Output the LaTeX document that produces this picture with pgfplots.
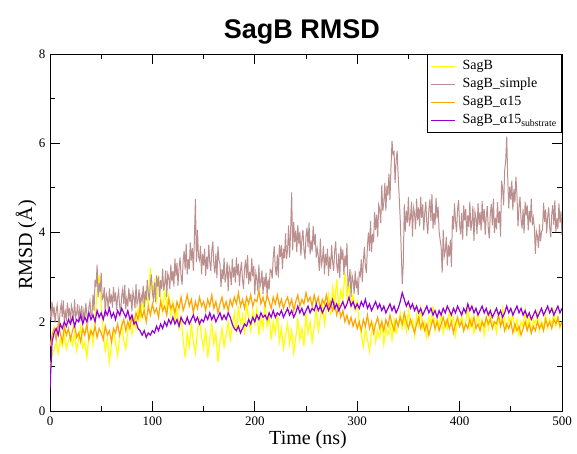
\documentclass[border=0pt]{standalone}
\usepackage{fontspec}
\setmainfont{Liberation Serif}
\newfontfamily\titlefont{Liberation Sans}
\usepackage{pgfplots}
\pgfplotsset{compat=1.18}
\definecolor{cYellow}{RGB}{255,255,0}
\definecolor{cBrown}{RGB}{188,143,143}
\definecolor{cOrange}{RGB}{255,165,0}
\definecolor{cPurple}{RGB}{148,0,211}
\begin{document}
\begin{tikzpicture}[x=1pt,y=1pt]
\useasboundingbox (0,0) rectangle (577,453);
\begin{axis}[
  at={(50pt,42pt)}, anchor=south west,
  scale only axis, width=512pt, height=357pt,
  xmin=0, xmax=500, ymin=0, ymax=8,
  xtick={0,100,...,500}, ytick={0,2,...,8},
  minor x tick num=1, minor y tick num=1,
  tick align=inside, major tick length=10pt, minor tick length=5pt,
  axis line style={black, line width=0.8pt},
  every tick/.style={black, line width=0.8pt},
  /pgf/number format/assume math mode=true,
  ticklabel style={font=\fontsize{13}{13}\selectfont},
  xticklabel style={yshift=-2pt},
  yticklabel style={xshift=-1pt},
  xlabel={Time (ns)}, ylabel={RMSD (Å)},
  label style={font=\fontsize{20}{20}\selectfont},
  xlabel style={at={(axis description cs:0.504,-0.0952)}, anchor=base},
  ylabel style={at={(axis description cs:-0.035,0.465)}, anchor=base, rotate=0},
  title={SagB RMSD},
  title style={font=\titlefont\bfseries\fontsize{27}{27}\selectfont, at={(axis description cs:0.492,1)}, anchor=base, yshift=10pt},
  legend style={at={(1,1)}, anchor=north east, draw=black, line width=0.8pt, fill=white,
    font=\fontsize{14}{14}\selectfont, inner xsep=3pt, inner ysep=3.5pt, row sep=1pt, column sep=5pt,
    nodes={inner sep=2pt, text height=10pt, text depth=3pt}, cells={anchor=west}},
  legend image code/.code={\draw[#1, line width=1.6pt] (0pt,0pt) -- (24pt,0pt);},
  every axis plot/.append style={line width=1.2pt},
]
\addplot[cYellow] coordinates {
(0,0.95)(2,1.25)(4,1.38)(6,1.52)(8,1.30)(10,1.61)(12,1.45)(14,1.72)(16,1.40)(18,1.58)
(20,1.66)(22,1.48)(24,1.75)(26,1.36)(28,1.62)(30,1.90)(32,1.42)(34,1.55)(36,1.20)(38,1.68)
(40,1.85)(42,1.50)(44,2.10)(46,2.65)(48,3.05)(50,2.40)(52,1.70)(54,1.35)(56,1.62)(58,1.10)
(60,1.48)(62,1.80)(64,1.52)(66,1.25)(68,1.66)(70,1.95)(72,1.58)(74,1.40)(76,1.80)(78,2.05)
(80,1.72)(82,2.10)(84,1.85)(86,2.30)(88,2.05)(90,2.45)(92,2.20)(94,2.70)(96,2.35)(98,3.20)
(100,2.60)(102,2.90)(104,2.40)(106,3.05)(108,2.55)(110,2.25)(112,2.70)(114,2.35)(116,2.60)(118,2.15)
(120,2.45)(122,2.00)(124,2.30)(126,1.85)(128,2.10)(130,1.60)(132,1.20)(134,1.75)(136,1.45)(138,1.95)
(140,1.55)(142,1.30)(144,1.80)(146,2.05)(148,1.65)(150,1.40)(152,1.85)(154,1.20)(156,1.60)(158,1.95)
(160,1.50)(162,1.75)(164,1.10)(166,1.55)(168,1.85)(170,1.45)(172,1.70)(174,2.00)(176,1.60)(178,1.90)
(180,2.20)(182,1.75)(184,2.35)(186,1.95)(188,2.15)(190,1.70)(192,2.40)(194,2.05)(196,1.80)(198,2.25)
(200,1.95)(202,2.30)(204,1.70)(206,2.10)(208,1.85)(210,2.45)(212,1.90)(214,2.15)(216,1.60)(218,2.00)
(220,1.75)(222,2.20)(224,1.55)(226,1.85)(228,1.40)(230,1.70)(232,1.95)(234,1.50)(236,1.80)(238,1.30)
(240,1.65)(242,2.05)(244,1.60)(246,1.85)(248,1.45)(250,2.20)(252,1.75)(254,2.00)(256,1.55)(258,1.90)
(260,2.30)(262,1.80)(264,2.10)(266,2.45)(268,1.95)(270,2.30)(272,2.60)(274,2.15)(276,2.75)(278,2.40)
(280,2.95)(282,2.30)(284,2.70)(286,2.50)(288,3.10)(290,2.55)(292,2.85)(294,2.35)(296,2.60)(298,2.25)
(300,2.45)(302,1.95)(304,1.70)(306,1.45)(308,1.85)(310,1.60)(312,1.35)(314,1.75)(316,1.95)(318,1.55)
(320,1.80)(322,1.65)(324,2.00)(326,1.50)(328,1.85)(330,1.70)(332,1.95)(334,1.60)(336,2.05)(338,1.75)
(340,1.90)(342,2.20)(344,1.85)(346,2.10)(348,1.80)(350,2.25)(352,1.95)(354,2.05)(356,1.70)(358,2.15)
(360,1.90)(362,2.30)(364,1.85)(366,2.00)(368,1.65)(370,2.10)(372,1.95)(374,2.35)(376,1.80)(378,2.05)
(380,1.90)(382,2.20)(384,1.75)(386,2.00)(388,1.85)(390,2.25)(392,1.95)(394,2.10)(396,1.70)(398,2.05)
(400,1.90)(402,2.15)(404,1.80)(406,2.00)(408,2.30)(410,1.85)(412,2.10)(414,1.75)(416,1.95)(418,2.20)
(420,1.90)(422,2.05)(424,1.70)(426,2.10)(428,1.85)(430,2.25)(432,1.95)(434,2.00)(436,1.75)(438,2.15)
(440,1.90)(442,2.30)(444,2.05)(446,1.85)(448,2.10)(450,1.95)(452,2.20)(454,1.80)(456,2.05)(458,1.70)
(460,2.00)(462,1.90)(464,2.25)(466,1.85)(468,2.10)(470,1.75)(472,2.05)(474,1.95)(476,2.20)(478,1.80)
(480,2.00)(482,1.90)(484,2.15)(486,1.85)(488,2.05)(490,1.95)(492,2.25)(494,1.90)(496,2.10)(498,1.85)
(500,2.00)};
\addlegendentry{SagB}
\addplot[cBrown, line width=1pt] coordinates {
(0,2.30)(1,2.04)(2,2.45)(3,2.16)(4,2.34)(5,1.98)(6,2.23)(7,2.38)(8,2.08)(9,1.94)
(10,2.27)(11,2.41)(12,2.11)(13,2.48)(14,2.01)(15,2.22)(16,2.06)(17,2.43)(18,2.14)(19,2.31)
(20,1.96)(21,2.36)(22,2.25)(23,2.02)(24,2.50)(25,2.10)(26,2.18)(27,2.40)(28,1.98)(29,2.28)
(30,2.10)(31,2.36)(32,1.95)(33,2.24)(34,2.06)(35,2.42)(36,2.17)(37,2.02)(38,2.32)(39,2.46)
(40,2.13)(41,2.14)(42,2.61)(43,2.25)(44,2.94)(45,2.78)(46,3.28)(47,2.56)(48,2.87)(49,2.66)
(50,3.10)(51,2.50)(52,2.54)(53,2.77)(54,2.12)(55,2.62)(56,2.52)(57,2.27)(58,2.75)(59,2.41)
(60,2.61)(61,2.32)(62,2.78)(63,2.45)(64,2.66)(65,2.26)(66,2.54)(67,2.70)(68,2.36)(69,2.20)
(70,2.58)(71,2.73)(72,2.40)(73,2.82)(74,2.28)(75,2.52)(76,2.34)(77,2.76)(78,2.44)(79,2.63)
(80,2.23)(81,2.68)(82,2.55)(83,2.30)(84,2.84)(85,2.39)(86,2.48)(87,2.73)(88,2.25)(89,2.59)
(90,2.48)(91,2.81)(92,2.32)(93,2.69)(94,2.48)(95,2.94)(96,2.65)(97,2.48)(98,2.86)(99,3.06)
(100,2.65)(101,2.50)(102,2.88)(103,2.44)(104,3.04)(105,2.79)(106,3.01)(107,2.55)(108,2.93)(109,2.73)
(110,3.19)(111,2.70)(112,2.85)(113,3.15)(114,2.56)(115,3.08)(116,2.99)(117,2.74)(118,3.28)(119,2.90)
(120,3.14)(121,2.79)(122,3.42)(123,3.02)(124,3.32)(125,2.81)(126,3.20)(127,3.44)(128,3.02)(129,2.83)
(130,3.36)(131,3.59)(132,3.17)(133,3.75)(134,3.06)(135,3.40)(136,3.18)(137,3.78)(138,3.37)(139,3.65)
(140,3.14)(141,3.84)(142,4.75)(143,3.34)(144,4.06)(145,3.46)(146,3.38)(147,3.70)(148,3.06)(149,3.52)
(150,3.26)(151,3.64)(152,3.03)(153,3.46)(154,3.18)(155,3.72)(156,3.35)(157,3.14)(158,3.58)(159,3.80)
(160,3.29)(161,3.09)(162,3.53)(163,2.98)(164,3.69)(165,3.38)(166,3.30)(167,2.78)(168,3.18)(169,2.95)
(170,3.43)(171,2.88)(172,3.03)(173,3.34)(174,2.68)(175,3.23)(176,3.12)(177,2.82)(178,3.41)(179,2.99)
(180,3.23)(181,2.88)(182,3.44)(183,3.04)(184,3.30)(185,2.80)(186,3.14)(187,3.34)(188,2.93)(189,2.74)
(190,3.20)(191,3.39)(192,2.98)(193,3.49)(194,2.84)(195,3.12)(196,2.90)(197,3.42)(198,3.02)(199,3.25)
(200,2.60)(201,3.10)(202,2.96)(203,2.68)(204,3.28)(205,2.78)(206,2.88)(207,3.15)(208,2.62)(209,3.00)
(210,2.78)(211,3.10)(212,2.59)(213,2.95)(214,2.72)(215,3.17)(216,3.15)(217,2.97)(218,3.44)(219,3.69)
(220,3.21)(221,3.04)(222,3.51)(223,2.99)(224,3.73)(225,3.45)(226,3.72)(227,3.18)(228,3.64)(229,3.42)
(230,3.98)(231,3.41)(232,3.61)(233,4.16)(234,3.44)(235,4.04)(236,4.90)(237,3.60)(238,4.24)(239,3.78)
(240,4.04)(241,3.56)(242,4.17)(243,3.74)(244,4.02)(245,3.48)(246,3.85)(247,4.06)(248,3.62)(249,3.40)
(250,3.91)(251,4.11)(252,3.67)(253,4.22)(254,3.51)(255,3.82)(256,3.58)(257,4.15)(258,3.72)(259,3.97)
(260,3.44)(261,3.64)(262,3.47)(263,3.14)(264,3.86)(265,3.26)(266,3.38)(267,3.70)(268,3.06)(269,3.52)
(270,3.26)(271,3.64)(272,3.03)(273,3.46)(274,3.18)(275,3.72)(276,3.35)(277,3.14)(278,3.58)(279,3.80)
(280,3.29)(281,3.09)(282,3.53)(283,2.98)(284,3.69)(285,3.38)(286,3.62)(287,3.05)(288,3.48)(289,3.23)
(290,3.76)(291,2.80)(292,2.92)(293,3.18)(294,2.56)(295,3.04)(296,2.92)(297,2.63)(298,3.14)(299,2.75)
(300,2.92)(301,2.60)(302,3.11)(303,3.03)(304,3.40)(305,2.89)(306,3.36)(307,3.67)(308,3.25)(309,3.09)
(310,3.71)(311,4.00)(312,3.59)(313,4.26)(314,3.56)(315,3.97)(316,3.78)(317,4.46)(318,4.06)(319,4.40)
(320,3.90)(321,4.62)(322,4.51)(323,4.21)(324,5.06)(325,4.48)(326,4.68)(327,5.11)(328,4.49)(329,5.05)
(330,4.83)(331,5.32)(332,4.73)(333,5.47)(334,6.05)(335,5.75)(336,5.80)(337,5.11)(338,5.60)(339,5.83)
(340,5.28)(341,4.80)(342,4.30)(343,3.60)(344,2.85)(345,3.30)(346,4.63)(347,4.02)(348,4.49)(349,4.22)
(350,4.79)(351,4.14)(352,4.32)(353,4.69)(354,3.91)(355,4.56)(356,4.43)(357,4.07)(358,4.76)(359,4.27)
(360,4.56)(361,4.14)(362,4.80)(363,4.33)(364,4.63)(365,4.05)(366,4.45)(367,4.69)(368,4.20)(369,3.97)
(370,4.52)(371,4.74)(372,4.26)(373,4.86)(374,4.09)(375,4.43)(376,4.17)(377,4.78)(378,4.31)(379,4.58)
(380,4.01)(381,3.84)(382,3.67)(383,3.10)(384,4.06)(385,3.46)(386,3.58)(387,3.90)(388,3.26)(389,3.72)
(390,3.46)(391,3.84)(392,3.23)(393,4.37)(394,4.07)(395,4.65)(396,4.25)(397,4.01)(398,4.50)(399,4.73)
(400,4.18)(401,3.96)(402,4.44)(403,3.84)(404,4.61)(405,4.27)(406,4.53)(407,3.92)(408,4.39)(409,4.12)
(410,4.69)(411,4.04)(412,4.22)(413,4.59)(414,3.81)(415,4.46)(416,4.33)(417,3.97)(418,4.66)(419,4.17)
(420,4.46)(421,4.04)(422,4.70)(423,4.23)(424,4.53)(425,3.95)(426,4.35)(427,4.59)(428,4.10)(429,3.87)
(430,4.42)(431,4.64)(432,4.16)(433,4.76)(434,3.99)(435,4.33)(436,4.07)(437,4.68)(438,4.21)(439,4.48)
(440,3.91)(441,5.16)(442,4.98)(443,4.61)(444,5.39)(445,5.60)(446,6.15)(447,5.23)(448,4.54)(449,5.03)
(450,4.74)(451,5.16)(452,4.50)(453,4.97)(454,4.67)(455,5.25)(456,4.85)(457,4.14)(458,4.58)(459,4.80)
(460,4.29)(461,4.09)(462,4.53)(463,3.98)(464,4.69)(465,4.38)(466,4.62)(467,4.05)(468,4.48)(469,4.23)
(470,4.76)(471,4.16)(472,4.33)(473,4.12)(474,3.52)(475,4.02)(476,3.92)(477,3.65)(478,4.18)(479,3.80)
(480,4.02)(481,4.06)(482,4.67)(483,4.24)(484,4.52)(485,3.98)(486,4.35)(487,4.56)(488,4.12)(489,3.90)
(490,4.41)(491,4.61)(492,4.17)(493,4.72)(494,4.01)(495,4.32)(496,4.08)(497,4.65)(498,4.22)(499,4.47)
(500,3.94)};
\addlegendentry{SagB\_simple}
\addplot[cOrange] coordinates {
(0,1.45)(2,1.70)(4,1.85)(6,1.60)(8,1.95)(10,1.75)(12,1.55)(14,1.90)(16,1.70)(18,1.85)
(20,1.60)(22,1.80)(24,1.95)(26,1.65)(28,1.75)(30,1.55)(32,1.85)(34,1.70)(36,1.95)(38,1.60)
(40,1.80)(42,1.70)(44,1.90)(46,1.65)(48,1.85)(50,1.75)(52,1.60)(54,1.90)(56,1.70)(58,1.80)
(60,1.55)(62,1.85)(64,1.75)(66,1.95)(68,1.70)(70,1.90)(72,2.05)(74,1.80)(76,2.00)(78,1.85)
(80,2.10)(82,1.95)(84,2.20)(86,2.05)(88,2.30)(90,2.10)(92,2.25)(94,2.00)(96,2.35)(98,2.15)
(100,2.40)(102,2.20)(104,2.30)(106,2.10)(108,2.45)(110,2.25)(112,2.35)(114,2.15)(116,2.50)(118,2.30)
(120,2.40)(122,2.20)(124,2.45)(126,2.30)(128,2.55)(130,2.25)(132,2.40)(134,2.60)(136,2.35)(138,2.50)
(140,2.20)(142,2.45)(144,2.30)(146,2.55)(148,2.35)(150,2.45)(152,2.25)(154,2.50)(156,2.35)(158,2.60)
(160,2.30)(162,2.45)(164,2.20)(166,2.40)(168,2.55)(170,2.30)(172,2.45)(174,2.25)(176,2.50)(178,2.35)
(180,2.55)(182,2.40)(184,2.65)(186,2.35)(188,2.50)(190,2.30)(192,2.55)(194,2.40)(196,2.60)(198,2.35)
(200,2.50)(202,2.45)(204,2.70)(206,2.40)(208,2.55)(210,2.35)(212,2.60)(214,2.45)(216,2.30)(218,2.55)
(220,2.40)(222,2.60)(224,2.35)(226,2.50)(228,2.30)(230,2.45)(232,2.55)(234,2.35)(236,2.50)(238,2.25)
(240,2.45)(242,2.60)(244,2.35)(246,2.50)(248,2.40)(250,2.65)(252,2.45)(254,2.55)(256,2.35)(258,2.60)
(260,2.40)(262,2.55)(264,2.30)(266,2.50)(268,2.40)(270,2.60)(272,2.35)(274,2.45)(276,2.25)(278,2.40)
(280,2.15)(282,2.35)(284,2.10)(286,2.25)(288,2.00)(290,2.15)(292,1.95)(294,2.10)(296,1.90)(298,2.05)
(300,1.85)(302,2.00)(304,1.80)(306,2.05)(308,1.90)(310,2.15)(312,1.85)(314,2.00)(316,1.75)(318,1.95)
(320,2.10)(322,1.85)(324,2.00)(326,1.80)(328,2.05)(330,1.90)(332,2.15)(334,1.95)(336,1.80)(338,2.05)
(340,1.90)(342,2.10)(344,1.95)(346,2.20)(348,2.00)(350,1.85)(352,2.05)(354,1.90)(356,1.75)(358,1.95)
(360,2.10)(362,1.85)(364,2.00)(366,1.80)(368,1.95)(370,1.70)(372,1.90)(374,2.05)(376,1.85)(378,2.00)
(380,1.80)(382,1.95)(384,2.10)(386,1.90)(388,2.05)(390,1.85)(392,2.00)(394,1.75)(396,1.95)(398,2.10)
(400,1.90)(402,2.00)(404,1.80)(406,1.95)(408,1.85)(410,2.05)(412,1.90)(414,2.10)(416,1.85)(418,1.95)
(420,1.80)(422,2.00)(424,1.90)(426,2.10)(428,1.95)(430,2.05)(432,1.85)(434,2.00)(436,1.95)(438,2.15)
(440,1.90)(442,2.05)(444,1.80)(446,1.95)(448,1.85)(450,2.00)(452,1.75)(454,1.95)(456,1.80)(458,1.90)
(460,1.70)(462,1.85)(464,2.00)(466,1.80)(468,1.95)(470,1.75)(472,1.90)(474,1.80)(476,2.00)(478,1.85)
(480,1.95)(482,1.80)(484,2.05)(486,1.90)(488,2.00)(490,1.85)(492,2.05)(494,1.95)(496,2.10)(498,1.90)
(500,2.00)};
\addlegendentry{SagB\_α15}
\addplot[cPurple] coordinates {
(0,0.50)(2,1.55)(4,1.75)(6,1.85)(8,1.70)(10,1.95)(12,1.85)(14,2.00)(16,1.90)(18,2.05)
(20,1.95)(22,2.10)(24,1.90)(26,2.05)(28,2.00)(30,2.15)(32,1.95)(34,2.10)(36,2.00)(38,2.20)
(40,2.05)(42,2.15)(44,2.00)(46,2.25)(48,2.10)(50,2.20)(52,2.05)(54,2.25)(56,2.15)(58,2.30)
(60,2.10)(62,2.20)(64,2.05)(66,2.25)(68,2.15)(70,2.30)(72,2.20)(74,2.10)(76,2.25)(78,2.05)
(80,2.15)(82,1.95)(84,2.00)(86,1.85)(88,1.80)(90,1.70)(92,1.80)(94,1.65)(96,1.75)(98,1.70)
(100,1.80)(102,1.75)(104,1.90)(106,1.80)(108,1.95)(110,1.85)(112,2.00)(114,1.90)(116,2.05)(118,1.95)
(120,2.10)(122,1.95)(124,2.05)(126,1.90)(128,2.10)(130,2.00)(132,1.95)(134,2.10)(136,1.95)(138,2.05)
(140,2.15)(142,2.00)(144,2.10)(146,1.95)(148,2.05)(150,2.00)(152,2.15)(154,2.05)(156,2.20)(158,2.05)
(160,2.15)(162,2.00)(164,2.10)(166,2.20)(168,2.05)(170,2.15)(172,2.05)(174,2.20)(176,2.10)(178,1.95)
(180,1.85)(182,1.80)(184,1.90)(186,1.75)(188,1.85)(190,1.95)(192,1.90)(194,2.05)(196,1.95)(198,2.10)
(200,2.00)(202,2.15)(204,2.05)(206,2.20)(208,2.10)(210,2.15)(212,2.05)(214,2.20)(216,2.10)(218,2.25)
(220,2.10)(222,2.20)(224,2.15)(226,2.25)(228,2.10)(230,2.20)(232,2.30)(234,2.15)(236,2.25)(238,2.10)
(240,2.20)(242,2.35)(244,2.20)(246,2.30)(248,2.15)(250,2.25)(252,2.35)(254,2.20)(256,2.30)(258,2.25)
(260,2.40)(262,2.25)(264,2.35)(266,2.20)(268,2.30)(270,2.40)(272,2.25)(274,2.35)(276,2.50)(278,2.30)
(280,2.40)(282,2.25)(284,2.35)(286,2.45)(288,2.30)(290,2.40)(292,2.55)(294,2.35)(296,2.45)(298,2.30)
(300,2.40)(302,2.30)(304,2.45)(306,2.35)(308,2.50)(310,2.30)(312,2.40)(314,2.25)(316,2.35)(318,2.45)
(320,2.30)(322,2.40)(324,2.25)(326,2.35)(328,2.20)(330,2.30)(332,2.40)(334,2.25)(336,2.35)(338,2.20)
(340,2.30)(342,2.45)(344,2.65)(346,2.50)(348,2.35)(350,2.45)(352,2.30)(354,2.40)(356,2.25)(358,2.35)
(360,2.20)(362,2.30)(364,2.15)(366,2.25)(368,2.35)(370,2.20)(372,2.30)(374,2.15)(376,2.25)(378,2.10)
(380,2.25)(382,2.15)(384,2.30)(386,2.20)(388,2.35)(390,2.25)(392,2.15)(394,2.30)(396,2.20)(398,2.35)
(400,2.25)(402,2.15)(404,2.30)(406,2.20)(408,2.40)(410,2.25)(412,2.35)(414,2.20)(416,2.30)(418,2.15)
(420,2.25)(422,2.35)(424,2.20)(426,2.30)(428,2.15)(430,2.25)(432,2.10)(434,2.20)(436,2.30)(438,2.15)
(440,2.25)(442,2.10)(444,2.20)(446,2.35)(448,2.20)(450,2.30)(452,2.15)(454,2.25)(456,2.35)(458,2.20)
(460,2.30)(462,2.15)(464,2.25)(466,2.10)(468,2.20)(470,2.05)(472,2.15)(474,2.25)(476,2.10)(478,2.20)
(480,2.30)(482,2.15)(484,2.25)(486,2.35)(488,2.20)(490,2.30)(492,2.15)(494,2.25)(496,2.35)(498,2.20)
(500,2.30)};
\addlegendentry{SagB\_α15\textsubscript{substrate}}
\end{axis}
\end{tikzpicture}
\end{document}
